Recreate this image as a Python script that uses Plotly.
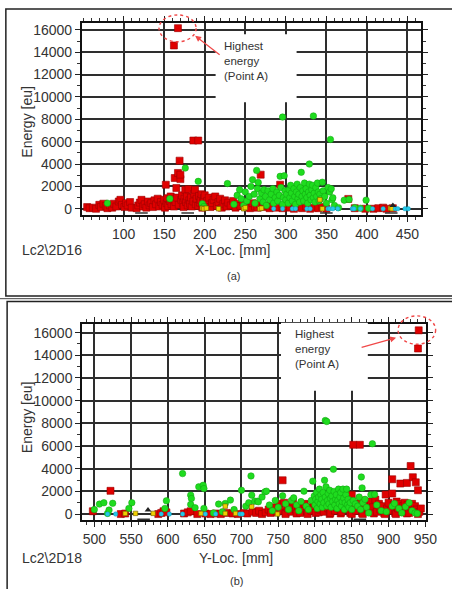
import plotly.graph_objects as go

# ---------------- data: panel (a) energy vs X-location ----------------
red_a = [(55,150),(58,50),(62,100),(66,0),(70,350),(72,150),(75,450),(78,250),(80,50),(83,300),
         (86,100),(88,450),(91,200),(94,650),(96,800),(98,350),(101,150),(103,500),(105,300),(108,600),
         (110,100),(116,50),(118,300),(120,550),(122,800),(124,200),(126,400),(128,100),(130,650),
         (132,300),(134,500),(136,150),(138,750),(140,400),(142,900),(144,200),(146,600),(148,350),
         (150,800),(151,100),(152,2150),(153,500),(154,950),(155,250),(157,700),(158,1100),(159,400),
         (162,14600),(161,850),(162,200),(163,2750),(164,600),(165,1850),(167,16150),(166,1000),
         (167,3200),(168,350),(169,4300),(170,2650),(170,3050),(171,800),(172,1200),(173,500),(174,150),
         (175,900),(176,1700),(177,600),(178,1100),(179,300),(180,1750),(181,750),(182,450),(183,1000),
         (184,200),(186,6100),(186,650),(187,1350),(188,1700),(189,400),(190,900),(192,6100),(192,250),
         (193,1150),(194,550),(195,800),(196,1300),(197,100),(198,600),(199,950),(200,1200),(201,300),
         (203,700),(205,1000),(207,150),(209,500),(211,800),(213,1100),(215,250),(217,600),(219,900),
         (221,100),(223,450),(225,750),(227,200),(229,550),(232,300),(235,700),(238,100),(241,450),
         (244,250),(247,600),(250,150),(253,350),(256,50),(259,500),(262,200),(265,100),(268,400),
         (269,3050),(272,150),(276,300),(280,50),(284,250),(288,100),(293,2150),(296,50),(300,200),
         (305,100),(310,0),(315,150),(320,50),(325,200),(330,0),(335,100),(340,50),(345,150),(350,0),
         (377,880),(385,50),(398,0),(408,0),(414,50),(420,100),(424,0),(432,50)]

green_a = [(80,500),(157,900),(176,3640),(192,2450),(197,450),(199,200),(228,2250),(236,400),(240,1200),
           (243,1700),(245,900),(248,300),(250,1500),(252,700),(255,1100),(257,2000),(259,2600),(261,1300),
           (262,500),(264,3430),(265,1800),(266,2350),(268,900),(270,1400),(272,600),(273,1700),(275,1100),
           (276,300),(278,1600),(280,800),(282,1300),(284,1800),(285,500),(287,1000),(289,1500),(290,700),
           (292,1200),(293,2900),(294,1900),(296,8200),(296,400),(297,1000),(298,2950),(299,1600),(300,800),
           (301,1300),(303,500),(304,1700),(305,1000),(306,2100),(307,1400),(308,700),(310,1800),(311,1100),
           (312,400),(313,1500),(314,2200),(315,900),(316,1300),(317,600),(318,1900),(319,3260),(320,1100),
           (321,1600),(322,700),(323,2300),(324,1300),(325,1800),(326,1000),(327,500),(328,1500),(329,4000),
           (329,2200),(330,1200),(331,800),(332,1700),(334,8300),(333,2100),(334,1000),(335,1400),(336,600),
           (337,1900),(338,1100),(339,2300),(340,1500),(341,700),(342,1300),(343,900),(345,2370),(346,1600),
           (348,1100),(350,500),(352,1900),(354,1500),(355,6200),(356,1780),(357,800),(358,980),(360,300),
           (365,100),(372,770),(378,830),(385,100),(392,50),(399,770),(402,50)]

yellow_a = [(197,50),(199,0),(202,50),(217,0),(248,0),(250,100),(268,0),(270,50),(342,800),(345,0),
            (429,50),(431,0)]
cyan_a = [(285,0),(296,0),(308,0),(312,0),(326,0),(330,0),(352,0),(354,0),(358,0),(364,0),(382,0),
          (384,0),(392,0),(407,0),(420,0),(435,0),(438,0),(447,0),(451,0)]
black_a = [(432,300)]
dash_a = [(122,-380),(179,-380),(350,-380),(430,-380)]

# ---------------- data: panel (b) energy vs Y-location ----------------
red_b = [(498,250),(522,2050),(536,0),(542,50),(587,0),(591,100),(594,250),(598,150),(622,50),(627,150),
         (631,250),(640,0),(651,50),(658,0),(665,50),(672,0),(680,100),(688,50),(695,0),(703,100),
         (708,50),(715,200),(720,100),(724,300),(728,0),(733,150),(737,400),(740,100),(744,600),(748,200),
         (752,900),(754,300),(756,2980),(758,1000),(760,100),(760,0),(763,500),(766,800),(768,200),
         (770,1100),(774,400),(775,50),(777,700),(780,100),(783,500),(786,900),(789,200),(790,0),
         (792,600),(795,300),(798,1000),(801,100),(804,700),(805,150),(807,400),(810,1200),(812,200),
         (815,800),(818,500),(820,0),(821,100),(824,900),(827,300),(830,600),(833,1100),(835,50),
         (836,200),(839,700),(842,400),(845,1000),(848,100),(850,1700),(850,0),(852,6110),(853,600),
         (856,300),(858,900),(861,6110),(862,1200),(864,100),(865,0),(867,500),(870,800),(873,300),
         (876,1100),(879,600),(880,50),(882,1280),(884,200),(887,900),(889,400),(892,700),(894,100),
         (895,0),(896,1720),(898,500),(900,1000),(903,300),(905,3070),(905,1810),(907,800),(909,100),
         (910,0),(911,1100),(913,500),(915,900),(916,2690),(918,200),(920,700),(922,1000),(924,400),
         (925,2750),(925,50),(926,800),(928,100),(930,4240),(931,600),(932,900),(933,3250),(935,300),
         (936,700),(937,2800),(938,400),(940,2100),(940,0),(942,200),(944,500),(940,14600),(941,16200)]

green_b = [(500,400),(507,880),(513,1000),(518,60),(520,350),(525,950),(547,500),(551,1000),(596,500),
           (598,1170),(620,3570),(631,1670),(632,1370),(631,850),(637,560),(642,2400),(648,2540),
           (649,2250),(649,500),(662,100),(669,880),(674,200),(678,935),(685,1230),(690,400),(700,2100),
           (706,700),(710,1000),(713,3360),(714,1670),(718,1140),(722,1140),(723,1080),(728,1500),
           (732,1960),(734,2020),(738,800),(742,300),(746,1200),(750,600),(756,1610),(760,900),(764,400),
           (768,1200),(771,1430),(775,800),(778,300),(781,1100),(785,2020),(788,700),(791,400),(795,1200),
           (797,2900),(799,1600),(800,800),(801,1300),(802,1900),(803,500),(804,1100),(805,1500),
           (806,2200),(807,900),(808,1700),(809,1300),(810,600),(811,1900),(812,1000),(813,2980),
           (814,8250),(816,8160),(814,1500),(815,2400),(816,700),(817,1200),(818,1800),(819,900),
           (820,2100),(821,1400),(822,600),(823,1600),(824,1100),(825,3950),(826,2000),(827,800),
           (828,1300),(829,1700),(830,500),(831,1200),(832,2200),(833,900),(834,1500),(835,1900),
           (836,700),(837,1100),(838,2200),(839,1400),(840,400),(841,1000),(842,1700),(843,2200),
           (844,800),(845,1300),(846,600),(848,1000),(850,400),(852,1200),(855,900),(858,700),(860,1500),
           (862,400),(863,3270),(864,2310),(865,1000),(868,1300),(870,600),(873,100),(876,1700),
           (878,6200),(881,1730),(884,800),(890,300),(897,200),(905,700),(908,935),(914,500),(918,100),
           (923,640),(928,1000),(932,300),(936,100),(939,60)]

yellow_b = [(542,60),(556,60),(580,60),(645,60),(678,700),(678,60),(692,60),(714,640),(749,0)]
cyan_b = [(518,0),(529,0),(591,0),(602,0),(620,0),(651,0),(665,0),(698,0),(701,0)]
black_b = [(573,350)]
dash_b = [(567,-450),(861,-450)]

# tick positions
x_ticks_a = [100, 150, 200, 250, 300, 350, 400, 450]
x_ticks_b = [500, 550, 600, 650, 700, 750, 800, 850, 900, 950]
y_ticks = [0, 2000, 4000, 6000, 8000, 10000, 12000, 14000, 16000]

# ---------------- layout helpers ----------------
W, H = 452, 589
FONT = "Arial, Liberation Sans, sans-serif"
TXT = "#333333"


def fx(p):
    return p / W


def fy(p):
    return 1 - p / H


def xy(pairs):
    return [p[0] for p in pairs], [p[1] for p in pairs]


fig = go.Figure()


def add_series(pairs, xa, ya, **marker):
    xs, ys = xy(pairs)
    fig.add_trace(go.Scatter(x=xs, y=ys, mode="markers", xaxis=xa, yaxis=ya,
                             marker=marker, hoverinfo="skip", showlegend=False))


for xa, ya, red, green, yellow, cyan, black, dash in [
        ("x", "y", red_a, green_a, yellow_a, cyan_a, black_a, dash_a),
        ("x2", "y2", red_b, green_b, yellow_b, cyan_b, black_b, dash_b)]:
    add_series(red, xa, ya, symbol="square", size=7, color="#e00000",
               line=dict(color="#9a0000", width=0.6))
    add_series(green, xa, ya, symbol="circle", size=6.5, color="#1fdc1f",
               line=dict(color="#10a010", width=0.5))
    add_series(yellow, xa, ya, symbol="square", size=4.5, color="#f0d000",
               line=dict(color="#6a5a00", width=0.6))
    add_series(cyan, xa, ya, symbol="circle", size=4.5, color="#25c8e8",
               line=dict(color="#1090b0", width=0.4))
    add_series(black, xa, ya, symbol="triangle-up", size=6, color="#222222")
    add_series(dash, xa, ya, symbol="line-ew", size=9,
               line=dict(color="#333333", width=1.5))

axis_common = dict(showline=True, linecolor="#111111", linewidth=2, mirror="ticks",
                   ticks="outside", ticklen=5, tickwidth=1.3, tickcolor="#222222",
                   showgrid=True, gridcolor="#2e2e2e", gridwidth=1.6, zeroline=False,
                   tickfont=dict(family=FONT, size=14, color=TXT), fixedrange=True,
                   tickformat="d")

xminor = dict(dtick=10, tick0=0, ticks="outside", ticklen=3, tickcolor="#333333", showgrid=False)
yminor = dict(dtick=1000, tick0=0, ticks="outside", ticklen=3, tickcolor="#333333", showgrid=False)

fig.update_layout(
    width=W, height=H, margin=dict(l=0, r=0, t=0, b=0),
    paper_bgcolor="white", plot_bgcolor="white", showlegend=False,
    xaxis=dict(axis_common, domain=[fx(84), fx(432)], range=[48.6, 467.3],
               tickmode="array", tickvals=x_ticks_a, minor=xminor, anchor="y"),
    yaxis=dict(axis_common, domain=[fy(215), fy(22)], range=[-550, 16620],
               tickmode="array", tickvals=y_ticks, minor=yminor, anchor="x"),
    xaxis2=dict(axis_common, domain=[fx(84.3), fx(436.7)], range=[483.6, 951],
                tickmode="array", tickvals=x_ticks_b, minor=xminor, anchor="y2"),
    yaxis2=dict(axis_common, domain=[fy(521.7), fy(325)], range=[-526, 16730],
                tickmode="array", tickvals=y_ticks, minor=yminor, anchor="x2"),
)

shapes = []
# outer panel frames
shapes.append(dict(type="rect", xref="paper", yref="paper", x0=fx(6), x1=fx(470),
                   y0=fy(296.5), y1=fy(8), line=dict(color="#222222", width=1.5)))
shapes.append(dict(type="line", xref="paper", yref="paper", x0=fx(0), x1=fx(470),
                   y0=fy(299.2), y1=fy(299.2), line=dict(color="#444444", width=1)))
shapes.append(dict(type="rect", xref="paper", yref="paper", x0=fx(7.3), x1=fx(470),
                   y0=fy(600), y1=fy(302), line=dict(color="#222222", width=1.5)))
# blank label areas inside the plots
shapes.append(dict(type="rect", xref="paper", yref="paper", x0=fx(221), x1=fx(304),
                   y0=fy(101.7), y1=fy(33.3), fillcolor="white", line=dict(width=0),
                   layer="above"))
shapes.append(dict(type="rect", xref="paper", yref="paper", x0=fx(288), x1=fx(377),
                   y0=fy(391.7), y1=fy(323.5), fillcolor="white", line=dict(width=0),
                   layer="above"))
# dashed rings around the highest-energy hit
shapes.append(dict(type="circle", xref="paper", yref="paper", x0=fx(163), x1=fx(201),
                   y0=fy(41), y1=fy(14), line=dict(color="#f04848", width=1.4, dash="dot"),
                   layer="above"))
shapes.append(dict(type="circle", xref="paper", yref="paper", x0=fx(408), x1=fx(446.5),
                   y0=fy(345), y1=fy(316.5), line=dict(color="#f04848", width=1.4, dash="dot"),
                   layer="above"))

annotations = []


def label(text, x, y, size=14, angle=0, xanchor="center", align="center"):
    annotations.append(dict(text=text, xref="paper", yref="paper", x=fx(x), y=fy(y),
                            xanchor=xanchor, yanchor="middle", showarrow=False,
                            textangle=angle, align=align,
                            font=dict(family=FONT, size=size, color=TXT)))


label("Energy [eu]", 28, 121, angle=-90)
label("X-Loc. [mm]", 238, 250)
label("Lc2\\2D16", 53, 250)
label("(a)", 239, 276, size=11)
label("Highest<br>energy<br>(Point A)", 228, 60, size=11.5, xanchor="left", align="left")

label("Energy [eu]", 28, 418, angle=-90)
label("Y-Loc. [mm]", 242, 560)
label("Lc2\\2D18", 53, 560)
label("(b)", 242, 583, size=11)
label("Highest<br>energy<br>(Point A)", 300, 350, size=11.5, xanchor="left", align="left")

# pointer arrows
annotations.append(dict(xref="paper", yref="paper", x=fx(200), y=fy(35), ax=26, ay=20,
                        text="", showarrow=True, arrowhead=2, arrowsize=1, arrowwidth=1.2,
                        arrowcolor="#f04848"))
annotations.append(dict(xref="paper", yref="paper", x=fx(406), y=fy(338.5), ax=-36, ay=10,
                        text="", showarrow=True, arrowhead=2, arrowsize=1, arrowwidth=1.2,
                        arrowcolor="#f04848"))

fig.update_layout(shapes=shapes, annotations=annotations)
fig.write_html("out.html")
